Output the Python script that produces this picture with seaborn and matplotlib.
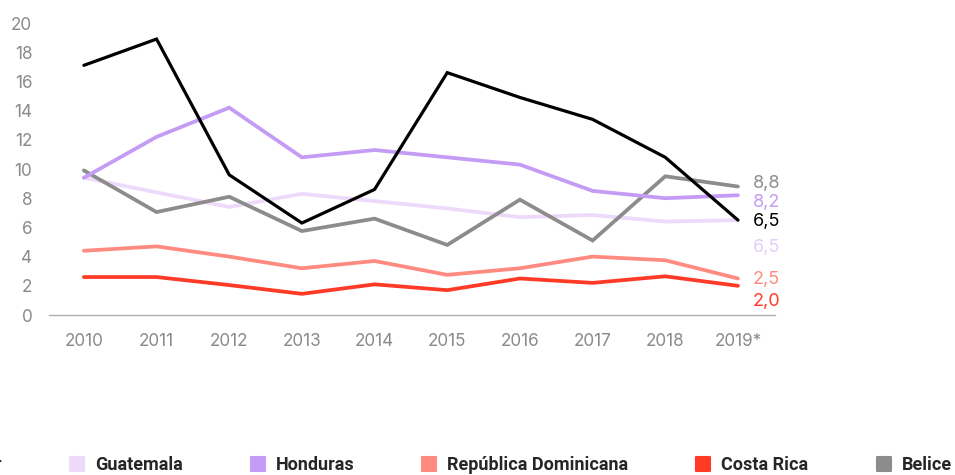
import matplotlib
matplotlib.use("Agg")
import matplotlib.pyplot as plt
from matplotlib import font_manager
from matplotlib.lines import Line2D
from matplotlib.markers import MarkerStyle
import seaborn as sns
import pandas as pd

# --- data -------------------------------------------------------------
years = ["2010", "2011", "2012", "2013", "2014", "2015", "2016", "2017", "2018", "2019*"]
countries = ["El Salvador", "Guatemala", "Honduras", "República Dominicana", "Costa Rica", "Belice"]

el_salvador = [17.1, 18.9, 9.6, 6.3, 8.6, 16.6, 14.9, 13.4, 10.8, 6.5]
guatemala = [9.4, 8.4, 7.4, 8.3, 7.8, 7.3, 6.7, 6.85, 6.4, 6.5]
honduras = [9.4, 12.2, 14.2, 10.8, 11.3, 10.8, 10.3, 8.5, 8.0, 8.2]
rep_dominicana = [4.4, 4.7, 4.0, 3.2, 3.7, 2.75, 3.2, 4.0, 3.75, 2.5]
costa_rica = [2.6, 2.6, 2.05, 1.45, 2.1, 1.7, 2.5, 2.2, 2.65, 2.0]
belice = [9.9, 7.05, 8.1, 5.75, 6.6, 4.8, 7.9, 5.1, 9.5, 8.8]

series = [el_salvador, guatemala, honduras, rep_dominicana, costa_rica, belice]

# --- styling ----------------------------------------------------------
palette = {
    "El Salvador": "#000000",
    "Guatemala": "#eddafb",
    "Honduras": "#c49bf5",
    "República Dominicana": "#ff8a80",
    "Costa Rica": "#ff3a26",
    "Belice": "#8c8c8c",
}
label_colors = dict(palette, Guatemala="#e4cdfa")
widths = {"El Salvador": 2.3}
default_width = 2.7

# vertical placement of the end-of-line value labels (spread apart to avoid overlap)
label_y = {
    "Belice": 9.0,
    "Honduras": 7.7,
    "El Salvador": 6.4,
    "Guatemala": 4.6,
    "República Dominicana": 2.4,
    "Costa Rica": 0.9,
}

available = {f.name for f in font_manager.fontManager.ttflist}
def pick(*names):
    for n in names:
        if n in available:
            return n
    return "DejaVu Sans"

tick_font = pick("Inter", "Roboto", "DejaVu Sans")
legend_font = pick("Roboto", "DejaVu Sans")

sns.set_theme(style="white")
plt.rcParams["font.family"] = [tick_font, "DejaVu Sans"]

df = pd.DataFrame(
    [(c, i, v) for c, vals in zip(countries, series) for i, v in enumerate(vals)],
    columns=["country", "idx", "value"],
)

fig = plt.figure(figsize=(9.55, 4.75), dpi=100)
ax = fig.add_axes([49 / 955, 1 - 315 / 475, (775 - 49) / 955, (315 - 23) / 475])

# draw back to front so the black line stays on top
draw_order = ["Guatemala", "Belice", "Honduras", "República Dominicana", "Costa Rica", "El Salvador"]
for c in draw_order:
    sub = df[df["country"] == c]
    sns.lineplot(data=sub, x="idx", y="value", color=palette[c],
                 linewidth=widths.get(c, default_width), ax=ax, legend=False,
                 clip_on=False, solid_joinstyle="miter")

ax.set_xlim(-0.48, len(years) - 1 + 0.51)
ax.set_ylim(0, 20)
ax.set_yticks(range(0, 21, 2))
ax.set_xticks(range(len(years)))
ax.set_xticklabels(years)
ax.set_xlabel("")
ax.set_ylabel("")
ax.tick_params(axis="both", length=0, labelsize=12.3, labelcolor="#8a8a8a")
ax.tick_params(axis="y", pad=12)
ax.tick_params(axis="x", pad=13)
for s in ["top", "right", "left"]:
    ax.spines[s].set_visible(False)
ax.spines["bottom"].set_color("#b0b0b0")
ax.spines["bottom"].set_linewidth(1.0)
ax.grid(False)

# value labels at the end of each line
for c, vals in zip(countries, series):
    ax.text(len(years) - 1 + 0.2, label_y[c], f"{vals[-1]:.1f}".replace(".", ","),
            color=label_colors[c], fontsize=13, va="center", ha="left")

# legend across the bottom
square = MarkerStyle("s", joinstyle="round")
handles = [Line2D([], [], marker=square, linestyle="none", markersize=10.5,
                  markeredgewidth=1.5, markerfacecolor=palette[c],
                  markeredgecolor=palette[c]) for c in countries]
fig.legend(handles, countries, loc="center", ncol=6, frameon=False,
           bbox_to_anchor=(418 / 955, 1 - 465 / 475),
           prop={"family": legend_font, "weight": "bold", "size": 13},
           handlelength=1.0, handletextpad=0.5, columnspacing=3.65)

fig.savefig("out.png", dpi=100)
